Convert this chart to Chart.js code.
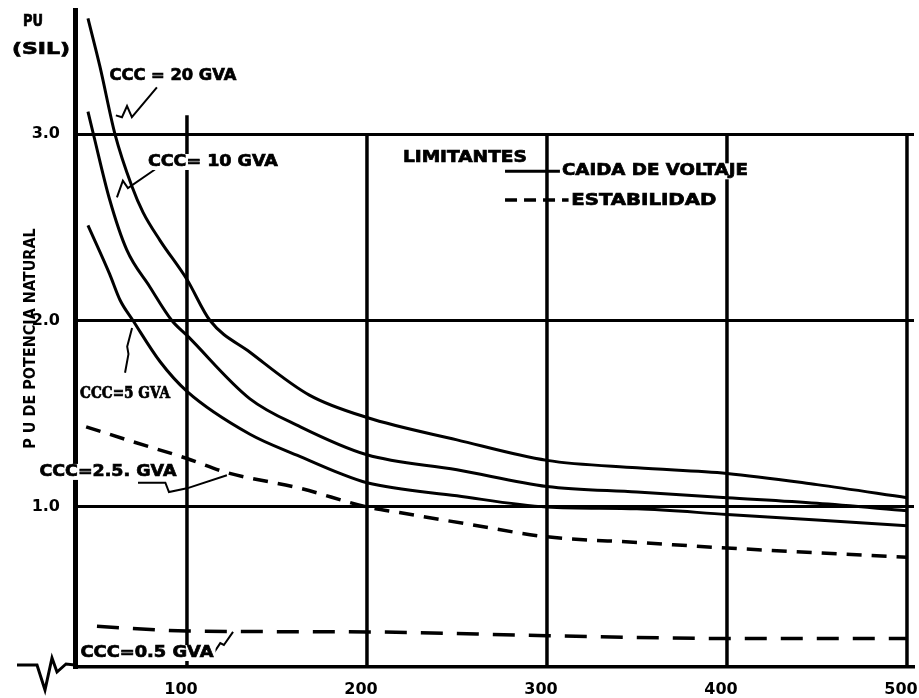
<!DOCTYPE html>
<html>
<head>
<meta charset="utf-8">
<script src="https://cdn.jsdelivr.net/npm/chart.js@4/dist/chart.umd.min.js"></script>
<style>
  html, body { margin: 0; padding: 0; background: #fff; }
  #wrap { width: 919px; height: 698px; }
</style>
</head>
<body>
<div id="wrap"><canvas id="c" width="919" height="698"></canvas></div>
<script>
// Longitud de la línea (km) y cargabilidad (PU de SIL) por nivel de cortocircuito
const kmCCC20 = [45, 51.7, 60, 69.4, 75.6, 85, 100, 112.8, 135, 168, 200, 250, 300, 350, 400, 450, 500];
const puCCC20 = [3.62, 3.36, 3.0, 2.72, 2.58, 2.43, 2.22, 2.0, 1.83, 1.60, 1.48, 1.36, 1.25, 1.21, 1.18, 1.12, 1.05];

const kmCCC10 = [45, 48, 57, 66.5, 79.4, 91.6, 100, 135, 163, 200, 250, 300, 350, 400, 450, 500];
const puCCC10 = [3.12, 3.0, 2.65, 2.38, 2.18, 2.0, 1.92, 1.58, 1.43, 1.28, 1.20, 1.11, 1.08, 1.05, 1.02, 0.98];

const kmCCC5 = [45, 57, 62.8, 70, 85, 100, 135, 163, 185, 200, 250, 300, 350, 400, 450, 500];
const puCCC5 = [2.51, 2.25, 2.11, 2.0, 1.78, 1.62, 1.39, 1.27, 1.18, 1.13, 1.06, 1.0, 0.99, 0.96, 0.93, 0.90];

const kmCCC25 = [44, 70, 100, 122, 163, 200, 218, 255, 300, 350, 400, 450, 500];
const puCCC25 = [1.43, 1.35, 1.26, 1.185, 1.10, 1.0, 0.97, 0.91, 0.84, 0.81, 0.78, 0.755, 0.73];

const kmCCC05 = [50, 100, 200, 300, 400, 500];
const puCCC05 = [0.36, 0.335, 0.33, 0.31, 0.295, 0.295];

const xTickValues = [100, 200, 300, 400, 500];
const yTickValues = [1, 2, 3];

const pairs = (xs, ys) => xs.map((x, i) => ({ x, y: ys[i] }));

const INK = '#000';
const BOLD = 'bold 16px "DejaVu Sans", sans-serif';

// Curve labels with their leader lines (data units)
const notes = [
  { text: 'CCC = 20 GVA', at: [92.2, 3.31], w: 127, font: BOLD,
    leader: [[83.3, 3.25], [69.4, 3.09], [66.7, 3.15], [63.9, 3.09], [60.5, 3.10]] },
  { text: 'CCC= 10 GVA', at: [114.4, 2.85], w: 130, font: BOLD,
    leader: [[82.2, 2.81], [67.2, 2.71], [64.4, 2.75], [61.1, 2.66]] },
  { text: 'CCC=5 GVA', at: [65.6, 1.61], w: 90, font: 'bold 17px "DejaVu Serif Condensed", "DejaVu Serif", serif',
    leader: [[65.6, 1.72], [67.5, 1.82], [66.8, 1.86], [69.5, 1.96]] },
  { text: 'CCC=2.5. GVA', at: [56.1, 1.188], w: 137, font: BOLD,
    leader: [[72.8, 1.13], [88.0, 1.13], [90.0, 1.08], [100, 1.10], [122.2, 1.17]] },
  { text: 'CCC=0.5 GVA', at: [77.8, 0.217], w: 133, font: BOLD,
    leader: [[114.4, 0.21], [118.5, 0.27], [120.5, 0.26], [125.6, 0.33]] }
];

const vGridTop = [3.1, 3.0, 3.0, 3.0, 3.0];

const drawText = (ctx, text, cx, cy, w, font, align) => {
  ctx.save();
  ctx.font = font;
  const m = ctx.measureText(text).width;
  ctx.translate(cx, cy);
  ctx.scale(w / m, 1);
  ctx.textBaseline = 'middle';
  ctx.textAlign = align || 'center';
  ctx.fillStyle = INK;
  ctx.strokeStyle = INK;
  ctx.lineWidth = 0.7;
  ctx.fillText(text, 0, 0);
  ctx.strokeText(text, 0, 0);
  ctx.restore();
};

const whiteBox = (ctx, cx, cy, w, h, align) => {
  ctx.save();
  ctx.fillStyle = '#fff';
  const left = align === 'left' ? cx - 2 : cx - w / 2 - 2;
  ctx.fillRect(left, cy - h / 2, w + 4, h);
  ctx.restore();
};

const decor = {
  id: 'decor',
  beforeDatasetsDraw(chart) {
    const { ctx, scales: { x, y } } = chart;
    ctx.save();
    ctx.strokeStyle = INK;
    ctx.lineWidth = 3.5;
    xTickValues.forEach((v, i) => {
      const px = x.getPixelForValue(v);
      ctx.beginPath();
      ctx.moveTo(px, y.getPixelForValue(vGridTop[i]));
      ctx.lineTo(px, y.bottom);
      ctx.stroke();
    });
    ctx.restore();
  },
  afterDraw(chart) {
    const { ctx, scales: { x, y }, chartArea } = chart;
    const P = (pt) => [x.getPixelForValue(pt[0]), y.getPixelForValue(pt[1])];

    // leaders and curve labels
    notes.forEach(n => {
      ctx.save();
      ctx.strokeStyle = INK;
      ctx.lineWidth = 2;
      ctx.beginPath();
      n.leader.forEach((pt, i) => {
        const [px, py] = P(pt);
        if (i === 0) ctx.moveTo(px, py); else ctx.lineTo(px, py);
      });
      ctx.stroke();
      ctx.restore();
      const [cx, cy] = P(n.at);
      whiteBox(ctx, cx, cy, n.w, 16);
      drawText(ctx, n.text, cx, cy, n.w, n.font);
    });

    // key: LIMITANTES
    const [lx, ly] = P([254.4, 2.87]);
    drawText(ctx, 'LIMITANTES', lx, ly, 124, BOLD);
    ctx.save();
    ctx.strokeStyle = INK;
    ctx.lineWidth = 3;
    let [a, b] = P([276.7, 2.80]);
    let [c2] = P([307.5, 2.80]);
    ctx.beginPath(); ctx.moveTo(a, b); ctx.lineTo(c2, b); ctx.stroke();
    [a, b] = P([276.7, 2.646]);
    [c2] = P([312.0, 2.646]);
    ctx.setLineDash([12, 7]);
    ctx.lineWidth = 3.5;
    ctx.beginPath(); ctx.moveTo(a, b); ctx.lineTo(c2, b); ctx.stroke();
    ctx.restore();
    let [tx, ty] = P([308.3, 2.80]);
    whiteBox(ctx, tx, ty, 186, 16, 'left');
    drawText(ctx, 'CAIDA DE VOLTAJE', tx, ty, 186, BOLD, 'left');
    [tx, ty] = P([313.5, 2.64]);
    drawText(ctx, 'ESTABILIDAD', tx, ty, 145, BOLD, 'left');

    // unit caption above the value axis
    drawText(ctx, 'PU', 33, 22, 20, BOLD);
    drawText(ctx, '(SIL)', 41, 50, 58, BOLD);

    // axis break mark at the origin
    const ox = chartArea.left, oy = chartArea.bottom;
    ctx.save();
    ctx.strokeStyle = INK;
    ctx.lineWidth = 3;
    ctx.beginPath();
    [[-58, -2], [-38, -2], [-30, 23], [-23, -9], [-18, 5], [-9, -3], [0, -2]].forEach((d, i) => {
      if (i === 0) ctx.moveTo(ox + d[0], oy + d[1]); else ctx.lineTo(ox + d[0], oy + d[1]);
    });
    ctx.stroke();
    ctx.restore();
  }
};

const curve = (xs, ys, dash) => ({
  data: pairs(xs, ys),
  showLine: true,
  borderColor: INK,
  borderWidth: dash ? 3.5 : 3,
  borderDash: dash || [],
  pointRadius: 0,
  cubicInterpolationMode: 'monotone',
  fill: false
});

const tickFont = { family: '"DejaVu Sans", sans-serif', size: 16, weight: 'bold' };

new Chart(document.getElementById('c'), {
  type: 'scatter',
  data: {
    datasets: [
      Object.assign(curve(kmCCC20, puCCC20), { label: 'CCC = 20 GVA' }),
      Object.assign(curve(kmCCC10, puCCC10), { label: 'CCC = 10 GVA' }),
      Object.assign(curve(kmCCC5, puCCC5), { label: 'CCC = 5 GVA' }),
      Object.assign(curve(kmCCC25, puCCC25, [15, 10]), { label: 'CCC = 2.5 GVA' }),
      Object.assign(curve(kmCCC05, puCCC05, [22, 14]), { label: 'CCC = 0.5 GVA' })
    ]
  },
  options: {
    responsive: false,
    animation: false,
    layout: { padding: { top: 10, right: 5, left: 0, bottom: 0 } },
    plugins: { legend: { display: false }, tooltip: { enabled: false } },
    scales: {
      x: {
        type: 'linear',
        min: 37.8,
        max: 503.9,
        afterBuildTicks: s => { s.ticks = xTickValues.map(v => ({ value: v })); },
        afterFit: s => { s.height = 31; s.paddingLeft = 0; s.paddingRight = 0; },
        grid: { display: false },
        border: { display: true, color: INK, width: 3.5 },
        ticks: { color: INK, font: tickFont, padding: 5, labelOffset: -6, autoSkip: false, maxRotation: 0 }
      },
      y: {
        type: 'linear',
        min: 0.142,
        max: 3.665,
        afterBuildTicks: s => { s.ticks = yTickValues.map(v => ({ value: v })); },
        afterFit: s => { s.width = 75; s.paddingTop = 0; s.paddingBottom = 0; },
        grid: { color: INK, lineWidth: 3, drawTicks: false },
        border: { display: true, color: INK, width: 5 },
        ticks: { color: INK, font: tickFont, padding: 15, callback: v => v.toFixed(1) },
        title: { display: true, text: 'P U DE POTENCIA NATURAL', color: INK,
                 font: { family: '"DejaVu Sans Condensed", "DejaVu Sans", sans-serif', size: 16, weight: 'bold' },
                 padding: { top: 21, bottom: 0 } }
      }
    }
  },
  plugins: [decor]
});
</script>
</body>
</html>
